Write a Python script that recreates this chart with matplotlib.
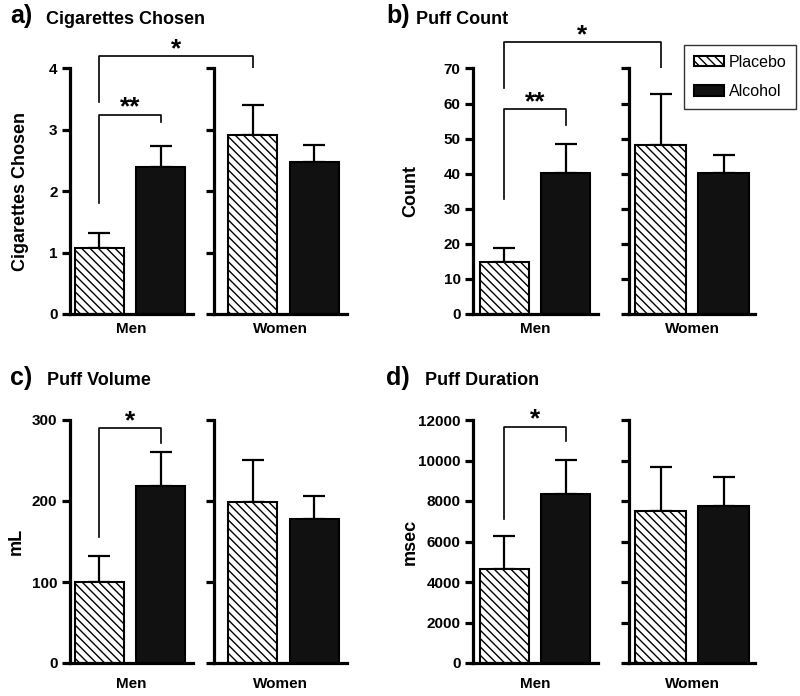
import matplotlib.pyplot as plt

plt.rcParams['font.family'] = ['Liberation Sans', 'DejaVu Sans']
plt.rcParams['hatch.linewidth'] = 1.0

# Data: [Placebo, Alcohol] means and upper SEM for each group
groups = ['Men', 'Women']
conditions = ['Placebo', 'Alcohol']

cig_men = [1.07, 2.39]
cig_men_err = [0.25, 0.35]
cig_women = [2.92, 2.48]
cig_women_err = [0.49, 0.27]

count_men = [14.9, 40.3]
count_men_err = [3.8, 8.1]
count_women = [48.1, 40.1]
count_women_err = [14.5, 5.3]

vol_men = [100, 219]
vol_men_err = [32, 42]
vol_women = [199, 178]
vol_women_err = [52, 28]

dur_men = [4660, 8360]
dur_men_err = [1600, 1660]
dur_women = [7500, 7750]
dur_women_err = [2170, 1450]

titles = ['Cigarettes Chosen', 'Puff Count', 'Puff Volume', 'Puff Duration']
letters = ['a)', 'b)', 'c)', 'd)']
ylabels = ['Cigarettes Chosen', 'Count', 'mL', 'msec']
yticks = [[0, 1, 2, 3, 4],
          [0, 10, 20, 30, 40, 50, 60, 70],
          [0, 100, 200, 300],
          [0, 2000, 4000, 6000, 8000, 10000, 12000]]

# significance brackets: (text, bracket top, left leg bottom, right leg bottom)
within_men = [('**', 3.25, 1.81, 3.13), ('**', 58.4, 32.8, 53.8),
              ('*', 290, 155, 271), ('*', 11670, 7090, 10960)]
men_vs_women = [('*', 4.2, 3.46, 3.79), ('*', 77.6, 64.5, 70.2), None, None]

men_data = [(cig_men, cig_men_err), (count_men, count_men_err),
            (vol_men, vol_men_err), (dur_men, dur_men_err)]
women_data = [(cig_women, cig_women_err), (count_women, count_women_err),
              (vol_women, vol_women_err), (dur_women, dur_women_err)]

W, H = 800, 696
fig = plt.figure(figsize=(W / 100, H / 100), dpi=100)

# layout in pixels
men_left = [70, 473]
men_width = [123, 125]
men_xlim = [(-0.48, 1.53), (-0.51, 1.53)]
women_left = [214, 629]
women_width = [133, 126]
women_xlim = [(-0.63, 1.53), (-0.5, 1.5)]
row_bottom = [314, 663]
row_top = [68.5, 420]
title_base = [23.5, 385]
letter_x = [10, 386]
title_x = [46.5, 416, 47, 425]
ylabel_x = [29, 419, 25, 419]   # right edge of the rotated label
xlabel_pad = [5.5, 10]

x = [0, 1]
styles = [dict(color='white', edgecolor='black', hatch='\\\\\\\\', linewidth=1.5),
          dict(color='#111111', edgecolor='black', linewidth=1.5)]


def draw_bars(ax, means, errs):
    for i in range(2):
        ax.bar(x[i], means[i], width=0.8, label=conditions[i], zorder=2, **styles[i])
    ax.errorbar(x, means, yerr=[[0, 0], errs], fmt='none', ecolor='black',
                elinewidth=1.6, capsize=8, capthick=1.6, zorder=1)


def bracket(ax, x0, x1, top, b0, b1, text):
    ax.plot([x0, x0, x1, x1], [b0, top, top, b1], color='black', lw=1.2,
            clip_on=False, zorder=3)
    ax.text((x0 + x1) / 2, top, text, ha='center', va='baseline',
            fontsize=19, fontweight='bold', clip_on=False)


for p in range(4):
    row, col = p // 2, p % 2
    bottom = 1 - row_bottom[row] / H
    height = (row_bottom[row] - row_top[row]) / H

    ax_m = fig.add_axes([men_left[col] / W, bottom, men_width[col] / W, height])
    ax_w = fig.add_axes([women_left[col] / W, bottom, women_width[col] / W, height])

    draw_bars(ax_m, *men_data[p])
    draw_bars(ax_w, *women_data[p])

    for ax, name, xl in [(ax_m, groups[0], men_xlim[col]), (ax_w, groups[1], women_xlim[col])]:
        ax.set_xlim(xl)
        ax.set_ylim(yticks[p][0], yticks[p][-1])
        ax.set_yticks(yticks[p])
        ax.set_xticks([])
        ax.set_xlabel(name, fontsize=11, fontweight='bold', labelpad=xlabel_pad[row])
        for s in ['top', 'right']:
            ax.spines[s].set_visible(False)
        for s in ['left', 'bottom']:
            ax.spines[s].set_linewidth(2.3)
        ax.tick_params(axis='y', length=6, width=2.3, pad=3, labelsize=11)
        for lab in ax.get_yticklabels():
            lab.set_fontweight('bold')
    ax_w.set_yticklabels([])

    ax_m.set_ylabel(ylabels[p], fontsize=13, fontweight='bold')
    ax_m.yaxis.set_label_coords((ylabel_x[p] - men_left[col]) / men_width[col], 0.5)

    fig.text(letter_x[col] / W, 1 - title_base[row] / H, letters[p],
             fontsize=18, fontweight='bold', va='baseline')
    fig.text(title_x[p] / W, 1 - title_base[row] / H, titles[p],
             fontsize=13, fontweight='bold', va='baseline')

    txt, top, b0, b1 = within_men[p]
    bracket(ax_m, x[0], x[1], top, b0, b1, txt)

    if men_vs_women[p] is not None:
        txt, top, b0, b1 = men_vs_women[p]
        # women placebo position expressed in the men axes data coordinates
        disp = ax_w.transData.transform((x[0], 0))
        xw = ax_m.transData.inverted().transform(disp)[0]
        bracket(ax_m, x[0], xw, top, b0, b1, txt)

    if p == 1:
        ax_w.legend(loc='upper right', bbox_to_anchor=(796 / W, 1 - 45 / H),
                    bbox_transform=fig.transFigure, borderaxespad=0,
                    fontsize=11.5, fancybox=False, edgecolor='#333333',
                    framealpha=1, handlelength=1.9, handleheight=0.65,
                    handletextpad=0.3, labelspacing=0.9, borderpad=0.6)

fig.savefig('out.png', dpi=100)
